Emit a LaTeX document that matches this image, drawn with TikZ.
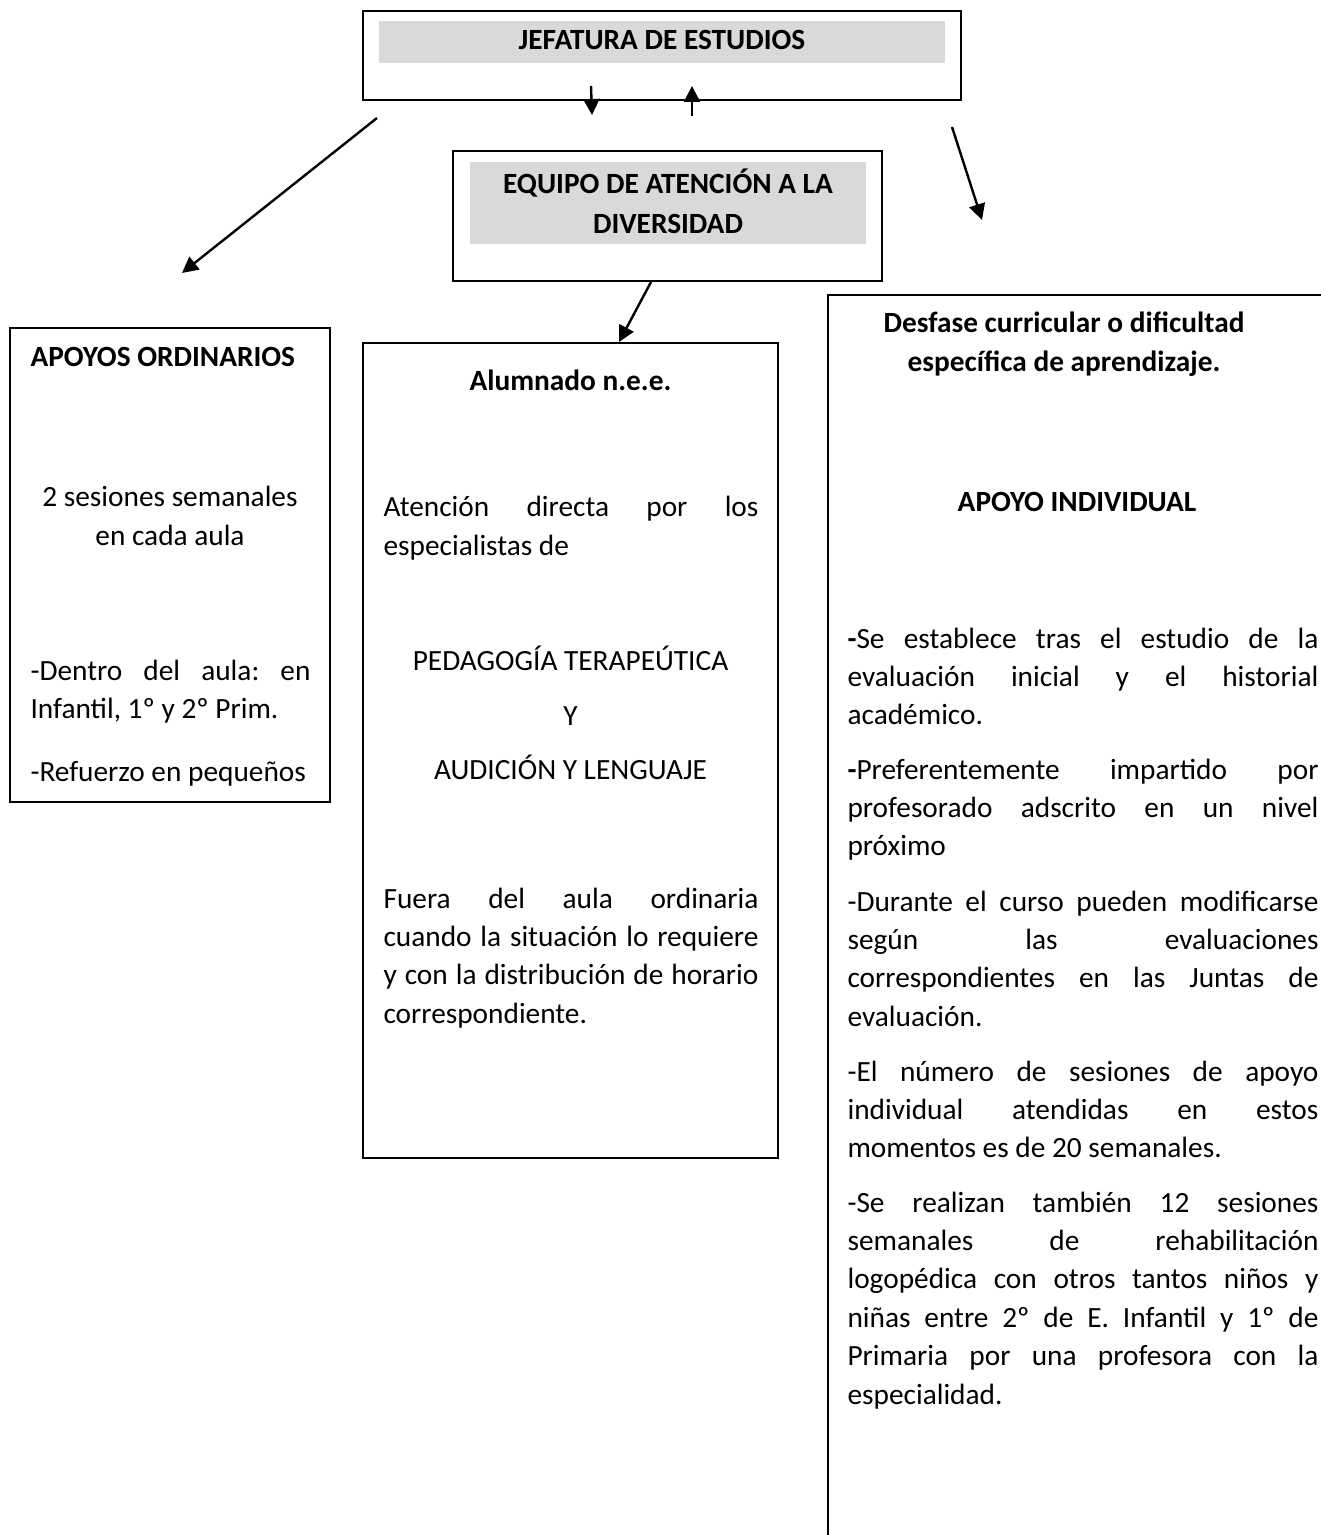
\documentclass[tikz,border=0pt]{standalone}
\usepackage{fontspec}
\setmainfont{Carlito}
\usetikzlibrary{arrows.meta,fit,calc}
\definecolor{banda}{HTML}{D9D9D9}
\tikzset{
	caja/.style={draw, line width=0.75pt, inner sep=0pt},
	franja/.style={fill=banda, inner sep=0pt},
	titulo/.style={inner sep=0pt, align=center, font=\bfseries\fontsize{11}{15}\selectfont},
	texto/.style={inner sep=0pt, font=\frenchspacing\fontsize{11}{14.4}\selectfont},
	negrita/.style={inner sep=0pt, font=\bfseries\fontsize{11}{14.4}\selectfont},
	parrafo/.style={texto, anchor=base west, align=justify, text width=#1},
	flecha/.style={-{Triangle[length=6pt,width=6pt]}, line width=0.9pt}
}
\begin{document}
\begin{tikzpicture}[x=0.375pt, y=-0.375pt]
		\useasboundingbox (0,0) rectangle (1320,1535);
		\node[caja, fit={(363,11) (961,100)}] (jef) {};
		\node[franja, fit={(379,21) (945,63)}] (jefb) {};
		\node[titulo] (jeft) at ($(jefb.center)+(0,-2)$) {JEFATURA DE ESTUDIOS};
		\node[caja, fit={(453,151) (882,281)}] (eq) {};
		\node[franja, fit={(470,162) (866,244)}] (eqb) {};
		\node[titulo] (eqt) at ($(eqb.center)+(0,-2)$) {EQUIPO DE ATENCIÓN A LA\\DIVERSIDAD};

		\node[caja, fit={(10,328) (330,802)}] (apo) {};
		\node[negrita, anchor=base west] (apot) at (30,367) {APOYOS ORDINARIOS};
		\node[texto, align=center] (apo1) at (170,516) {2 sesiones semanales\\en cada aula};
		\node[parrafo=105pt] (apo2) at (30,680) {-Dentro del aula: en\linebreak Infantil, 1º y 2º Prim.};
		\node[parrafo=105pt] (apo3) at (30,781) {-Refuerzo en pequeños};

		\node[caja, fit={(363,343) (778,1158)}] (alu) {};
		\node[negrita, anchor=base] (alut) at (570.5,391) {Alumnado n.e.e.};
		\node[parrafo=140.6pt] (alu1) at (383,517) {Atención directa por los\linebreak especialistas de};
		\node[texto, anchor=base] (alu2) at (570.5,670) {PEDAGOGÍA TERAPEÚTICA};
		\node[texto, anchor=base] (alu3) at (570.5,725) {Y};
		\node[texto, anchor=base] (alu4) at (570.5,779) {AUDICIÓN Y LENGUAJE};
		\node[parrafo=140.6pt] (alu5) at (383,908) {Fuera del aula ordinaria\linebreak cuando la situación lo requiere\linebreak y con la distribución de horario\linebreak correspondiente.};

		\node[caja, fit={(828,295) (1340,1560)}] (ind) {};
		\node[negrita, align=center] (indt) at (1064,344) {Desfase curricular o dificultad\\específica de aprendizaje.};
		\node[negrita, anchor=base] (ind0) at (1077,511) {APOYO INDIVIDUAL};
		\node[parrafo=176.6pt] (ind1) at (847,648) {\textbf{-}Se establece tras el estudio de la\linebreak evaluación inicial y el historial\linebreak académico.};
		\node[parrafo=176.6pt] (ind2) at (847,779) {\textbf{-}Preferentemente impartido por\linebreak profesorado adscrito en un nivel\linebreak próximo};
		\node[parrafo=176.6pt] (ind3) at (847,911) {-Durante el curso pueden modificarse\linebreak según las evaluaciones\linebreak correspondientes en las Juntas de\linebreak evaluación.};
		\node[parrafo=176.6pt] (ind4) at (847,1081) {-El número de sesiones de apoyo\linebreak individual atendidas en estos\linebreak momentos es de 20 semanales.};
		\node[parrafo=176.6pt] (ind5) at (847,1212) {-Se realizan también 12 sesiones\linebreak semanales de rehabilitación\linebreak logopédica con otros tantos niños y\linebreak niñas entre 2º de E. Infantil y 1º de\linebreak Primaria por una profesora con la\linebreak especialidad.};

		\draw[flecha] ($(jef.south)+(-71,-15)$) -- ($(eq.north)+(-75.5,-35)$);
		\draw[flecha] ($(eq.north)+(24.5,-34)$) -- ($(jef.south)+(30,-15)$);
		\draw[flecha] ($(jef.south west)+(15,17)$) -- ($(apo.north)+(12,-54)$);
		\draw[flecha] ($(jef.south east)+(-10,26)$) -- ($(ind.north west)+(155,-74)$);
		\draw[flecha] ($(eq.south)+(-16.5,0)$) -- ($(alu.north)+(48.5,0)$);
	\end{tikzpicture}
\end{document}
